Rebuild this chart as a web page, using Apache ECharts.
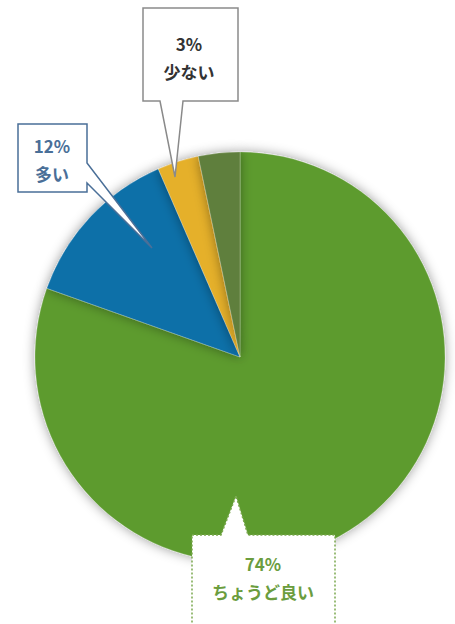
<!DOCTYPE html>
<html><head><meta charset="utf-8">
<script src="https://cdn.jsdelivr.net/npm/echarts@6/dist/echarts.min.js"></script>
<style>html,body{margin:0;padding:0;background:#fff;}#c{width:455px;height:624px;}</style>
</head><body><div id="c"></div>
<script>
const categories = ['ちょうど良い', '多い', '少ない', 'その他'];
const values = [74, 12, 3, 3];
const colors = ['#5d9b2f', '#0b6fa8', '#e5b02c', '#5f7f3c'];
const labelColors = ['#6b9d3e', '#4a6f98', '#333333', null];

const chart = echarts.init(document.getElementById('c'), null, {renderer: 'svg'});
const font = '"Noto Sans CJK JP", "Noto Sans", sans-serif';

function callout(points, idx, tx, ty, stroke, dash) {
  return [
    {type: 'polygon', z: 10, shape: {points: points},
     style: {fill: '#fff', stroke: stroke, lineWidth: 1.5, lineDash: dash || null}},
    {type: 'text', z: 11, x: tx, y: ty,
     style: {text: values[idx] + '%\n' + categories[idx], fill: labelColors[idx],
       font: 'bold 17px ' + font, textAlign: 'center', textVerticalAlign: 'top', lineHeight: 28}}
  ];
}

const graphics = [].concat(
  callout([[143,8],[238,8],[238,101],[183,101],[175,177],[160,101],[143,101]], 2, 189, 29, '#8a8a8a'),
  callout([[18,124],[87,124],[87,163],[152,248],[87,183],[87,192],[18,192]], 1, 52, 131, '#4a6f98'),
  callout([[192,535],[221,535],[236,496],[248,535],[335,535],[335,640],[192,640]], 0, 263, 549, '#7aa84e', [2,2])
);

chart.setOption({
  animation: false,
  backgroundColor: '#ffffff',
  series: [{
    type: 'pie',
    center: [240, 357],
    radius: 205,
    startAngle: 90,
    clockwise: true,
    silent: true,
    label: {show: false},
    labelLine: {show: false},
    itemStyle: {borderColor: 'rgba(255,255,255,0.35)', borderWidth: 0.6,
      shadowBlur: 12, shadowColor: 'rgba(0,0,0,0.4)'},
    data: categories.map((n, i) => ({name: n, value: values[i], itemStyle: {color: colors[i]}}))
  }],
  graphic: graphics
});
</script></body></html>
